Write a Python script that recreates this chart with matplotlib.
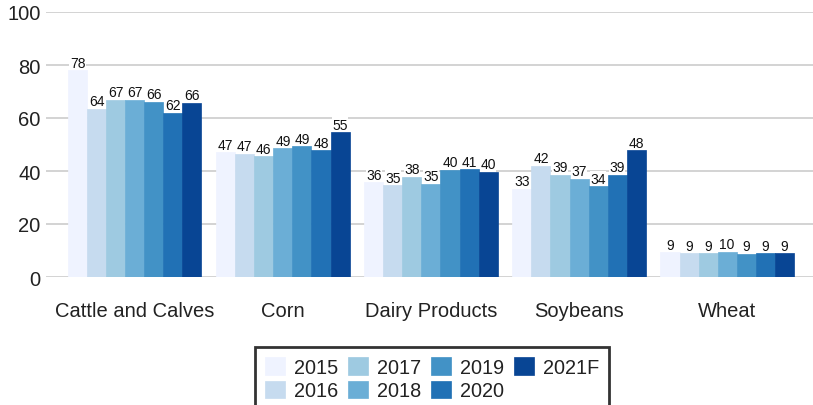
import matplotlib
matplotlib.use("Agg")
import matplotlib.pyplot as plt
import numpy as np

plt.rcParams['font.family'] = ['Liberation Sans', 'DejaVu Sans']

categories = ["Cattle and Calves", "Corn", "Dairy Products", "Soybeans", "Wheat"]
years = ["2015", "2016", "2017", "2018", "2019", "2020", "2021F"]
values = {
    "2015":  [78.1, 47.0, 35.8, 33.2, 9.4],
    "2016":  [63.5, 46.6, 34.6, 41.9, 8.9],
    "2017":  [66.9, 45.6, 37.8, 38.6, 8.9],
    "2018":  [66.9, 48.6, 35.2, 37.0, 9.5],
    "2019":  [66.1, 49.3, 40.4, 34.2, 8.7],
    "2020":  [61.9, 47.9, 40.6, 38.6, 9.0],
    "2021F": [65.8, 54.7, 39.7, 47.9, 9.0],
}
colors = ["#eff3ff", "#c6dbef", "#9ecae1", "#6baed6", "#4292c6", "#2171b5", "#084594"]

fig = plt.figure(figsize=(8.13, 4.06), dpi=100)
ax = fig.add_axes([46/813, 1-278/406, 1-46/813, (278-13)/406])

x = np.arange(len(categories))
n = len(years)
group_w = 0.9
bw = group_w / n
for i, (yr, c) in enumerate(zip(years, colors)):
    vals = values[yr]
    pos = x - group_w/2 + bw/2 + i*bw
    ax.bar(pos, vals, width=bw, color=c, label=yr, zorder=3,
           edgecolor=c, linewidth=0.5)
    for p, v in zip(pos, vals):
        ax.text(p, v + 0.2, f"{v:.0f}", ha='center', va='bottom', fontsize=10,
                color='#111111', zorder=4,
                bbox=dict(facecolor='white', edgecolor='none', pad=0.4))

ax.set_ylim(0, 100)
ax.set_xlim(-0.60, 4.58)
ax.set_yticks([0, 20, 40, 60, 80, 100])
ax.set_xticks(x)
ax.set_xticklabels(categories)
ax.tick_params(axis='both', length=0, labelsize=14.5, colors='#222222')
ax.tick_params(axis='x', pad=17)
ax.tick_params(axis='y', pad=4)
ax.yaxis.grid(True, color='#cccccc', linewidth=1.2, zorder=0)
ax.set_axisbelow(True)
for s in ax.spines.values():
    s.set_visible(False)

leg = fig.legend(loc='upper left', bbox_to_anchor=(255/813, 1-348/406), ncol=4,
                 fontsize=14.3, frameon=True, fancybox=False,
                 handlelength=1.0, handleheight=1.0, handletextpad=0.45,
                 columnspacing=0.5, labelspacing=0.2, borderpad=0.5,
                 borderaxespad=0)
leg.get_frame().set_edgecolor('black')
leg.get_frame().set_linewidth(2)
for t in leg.get_texts():
    t.set_color('#222222')

fig.savefig("out.png", dpi=100)
